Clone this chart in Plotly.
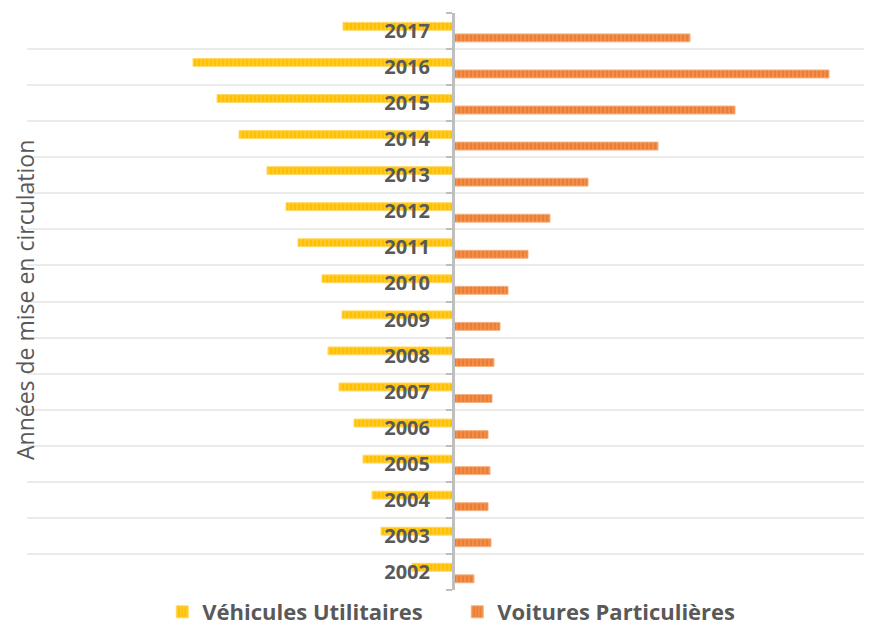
import plotly.graph_objects as go

# Années de mise en circulation (bas -> haut)
annees = [str(a) for a in range(2002, 2018)]

# Véhicules Utilitaires (barres vers la gauche)
vu = [41, 72, 81, 90, 99, 114, 125, 111, 131, 155, 167, 186, 214, 236, 260, 110]
# Voitures Particulières (barres vers la droite)
vp = [21, 38, 35, 37, 35, 39, 41, 47, 55, 75, 97, 135, 205, 282, 376, 237]

x_min, x_max = -426, 415
gris = "#595959"

# the page body has an 8px margin, so positions are given in page pixels minus 8
OFF = 8
W, H = 864, 640
pl, pr, pt, pb = 27 - OFF, 868 - OFF, 13 - OFF, 590 - OFF

fig = go.Figure()

fig.add_trace(
    go.Bar(
        y=annees,
        x=[-v for v in vu],
        orientation="h",
        name="Véhicules Utilitaires",
        offset=0.02,
        width=0.22,
        marker=dict(
            color="#FFC000",
            line=dict(color="#FFD966", width=1),
            pattern=dict(shape="|", size=4, solidity=0.35, fgcolor="#FFDD73", bgcolor="#FFC000"),
        ),
        customdata=vu,
        hovertemplate="%{y}<br>%{customdata}<extra>VU</extra>",
    )
)

fig.add_trace(
    go.Bar(
        y=annees,
        x=vp,
        orientation="h",
        name="Voitures Particulières",
        offset=-0.30,
        width=0.22,
        marker=dict(
            color="#ED7D31",
            line=dict(color="#F4B183", width=1),
            pattern=dict(shape="|", size=4, solidity=0.35, fgcolor="#F6B080", bgcolor="#ED7D31"),
        ),
        hovertemplate="%{y}<br>%{x}<extra>VP</extra>",
    )
)

# zero line position in paper coordinates
zero_px = pl + (0 - x_min) / (x_max - x_min) * (pr - pl)

fig.update_layout(
    width=W,
    height=H,
    margin=dict(l=0, r=0, t=0, b=0),
    paper_bgcolor="white",
    plot_bgcolor="white",
    barmode="overlay",
    font=dict(family="Open Sans, DejaVu Sans, sans-serif", color=gris),
    xaxis=dict(
        domain=[pl / W, pr / W],
        range=[x_min, x_max],
        showgrid=False,
        zeroline=False,
        showticklabels=False,
        automargin=False,
        fixedrange=True,
    ),
    yaxis=dict(
        domain=[1 - pb / H, 1 - pt / H],
        type="category",
        categoryorder="array",
        categoryarray=annees,
        range=[-0.5, len(annees) - 0.5],
        anchor="free",
        position=zero_px / W,
        showline=True,
        linecolor="#BFBFBF",
        linewidth=3,
        ticks="outside",
        tickson="boundaries",
        ticklen=6,
        tickwidth=2,
        tickcolor="#BFBFBF",
        ticklabelstandoff=18,
        showgrid=True,
        gridcolor="#EBEBEB",
        gridwidth=1.5,
        tickfont=dict(size=20, color=gris, weight="bold"),
        automargin=False,
        fixedrange=True,
    ),
    legend=dict(
        orientation="h",
        x=0.52,
        xanchor="center",
        y=1 - (612 - OFF) / H,
        yanchor="middle",
        font=dict(size=22, color=gris, weight="bold"),
        itemwidth=30,
        entrywidth=250,
    ),
    annotations=[
        dict(
            text="Années de mise en circulation",
            xref="paper",
            yref="paper",
            x=0,
            y=1 - (300 - OFF) / H,
            xanchor="left",
            yanchor="middle",
            textangle=-90,
            showarrow=False,
            borderpad=0,
            font=dict(size=23, color=gris),
        )
    ],
)

fig.write_html("out.html")
